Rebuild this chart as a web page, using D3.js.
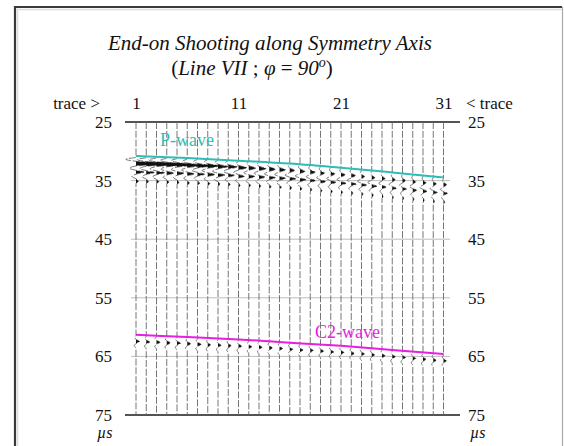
<!DOCTYPE html>
<html>
<head>
<meta charset="utf-8">
<script src="https://cdn.jsdelivr.net/npm/d3@7"></script>
<style>
  body { margin: 0; background: #fff; }
  svg { display: block; }
  .tick text { font-family: "Liberation Serif", "Times New Roman", serif; font-size: 17px; fill: #111; }
</style>
</head>
<body>
<div id="chart"></div>
<script>
// trace numbers and time ticks
const traces = [1, 2, 3, 4, 5, 6, 7, 8, 9, 10, 11, 12, 13, 14, 15, 16, 17, 18, 19, 20,
  21, 22, 23, 24, 25, 26, 27, 28, 29, 30, 31];
const traceTicks = [1, 11, 21, 31];
const timeTicks = [25, 35, 45, 55, 65, 75];
const gridTimes = [35, 45, 55, 65];

// picked arrival lines (µs)
const pickTraces = [1, 6, 11, 16, 21, 26, 31];
const pWavePick = [30.8, 31.15, 31.6, 32.1, 32.8, 33.6, 34.45];
const c2WavePick = [61.3, 61.7, 62.1, 62.65, 63.2, 63.9, 64.6];

// wiggle onsets (µs) and amplitudes (px) per trace
const pOnset = [31.0, 31.05, 31.1, 31.15, 31.2, 31.3, 31.35, 31.4, 31.5, 31.55, 31.7,
  31.75, 31.85, 31.95, 32.05, 32.15, 32.3, 32.45, 32.6, 32.75, 32.9,
  33.05, 33.2, 33.4, 33.55, 33.75, 33.9, 34.1, 34.25, 34.45, 34.6];
const pAmpMain = [34, 30, 26, 22, 18, 15, 13, 11, 10, 9, 8, 7, 7, 6, 6, 5, 5, 5, 4, 4,
  4, 4, 3, 3, 3, 3, 3, 3, 3, 3, 3];
const pAmpCoda = [8, 8, 8, 7, 7, 7, 7, 7, 7, 6, 6, 6, 6, 6, 6, 6, 6, 5, 5, 5,
  5, 5, 5, 5, 4, 4, 4, 4, 4, 4, 4];
const c2Onset = [61.5, 61.6, 61.65, 61.75, 61.8, 61.9, 62.0, 62.1, 62.15, 62.25, 62.3,
  62.4, 62.5, 62.6, 62.7, 62.85, 62.95, 63.05, 63.15, 63.3, 63.4,
  63.55, 63.65, 63.8, 63.95, 64.1, 64.25, 64.4, 64.55, 64.7, 64.8];
const c2Amp = [3.5, 3.5, 3.5, 3.5, 3.5, 3.5, 3.5, 3, 3, 3, 3, 3, 3, 3, 3, 3, 3, 3, 3, 3,
  3, 3, 3, 3, 3, 3, 3, 3, 3, 3, 3];

// wavelet shapes: [time after onset (µs), relative amplitude]
const mainLobe = [[0, 0], [0.35, -0.3], [0.7, 0], [1.1, 1], [1.5, 0]];
const codaLobes = [[1.9, -0.8], [2.25, 0], [2.55, 1], [2.9, 0], [3.3, -0.5], [3.7, 0], [4.1, 0.3], [4.5, 0]];
const c2Lobes = [[0, 0], [0.3, -0.4], [0.6, 0], [0.95, 1], [1.3, 0], [1.7, -0.5], [2.1, 0]];

const width = 564, height = 446;
const svg = d3.select('#chart').append('svg')
  .attr('width', width)
  .attr('height', height);

const x = d3.scaleLinear().domain([1, 31]).range([136, 443.5]);
const y = d3.scaleLinear().domain([25, 75]).range([122, 415]);

// frame
svg.append('path')
  .attr('d', 'M15,470 L15,7 L562,7')
  .attr('fill', 'none')
  .attr('stroke', '#3a3a3a')
  .attr('stroke-width', 2.2);
svg.append('path')
  .attr('d', 'M17.5,470 L17.5,9.5 L562,9.5')
  .attr('fill', 'none')
  .attr('stroke', '#ddd')
  .attr('stroke-width', 1.5);
svg.append('line')
  .attr('x1', 562.5).attr('x2', 562.5).attr('y1', 7).attr('y2', 446)
  .attr('stroke', '#aaa').attr('stroke-width', 1.2);

// title
const serif = '"Liberation Serif", "Times New Roman", serif';
svg.append('text')
  .attr('x', 270).attr('y', 50)
  .attr('text-anchor', 'middle')
  .style('font-family', serif).style('font-size', '21px').style('font-style', 'italic')
  .attr('fill', '#111')
  .text('End-on Shooting along Symmetry Axis');

const sub = svg.append('text')
  .attr('x', 252).attr('y', 75)
  .attr('text-anchor', 'middle')
  .style('font-family', serif).style('font-size', '21px')
  .attr('fill', '#111');
sub.append('tspan').text('(');
sub.append('tspan').style('font-style', 'italic').text('Line VII');
sub.append('tspan').text(' ; ');
sub.append('tspan').style('font-style', 'italic').text('φ');
sub.append('tspan').text(' = ');
sub.append('tspan').style('font-style', 'italic').text('90');
sub.append('tspan').style('font-style', 'italic').style('font-size', '14px').attr('dy', -8).text('o');
sub.append('tspan').attr('dy', 8).text(')');

// grid lines
svg.append('g').selectAll('line')
  .data(gridTimes)
  .join('line')
    .attr('x1', 131).attr('x2', 450)
    .attr('y1', d => y(d)).attr('y2', d => y(d))
    .attr('stroke', '#b5b5b5')
    .attr('stroke-width', 0.9);

// top and bottom axis lines
svg.append('g').selectAll('line')
  .data([25, 75])
  .join('line')
    .attr('x1', 125).attr('x2', 460)
    .attr('y1', d => y(d)).attr('y2', d => y(d))
    .attr('stroke', '#1a1a1a')
    .attr('stroke-width', 1.6);

// wiggle traces
function traceSamples(i) {
  const pts = [{t: 25, a: 0}];
  mainLobe.forEach(s => pts.push({t: pOnset[i] + s[0], a: s[1] * pAmpMain[i]}));
  codaLobes.forEach(s => pts.push({t: pOnset[i] + s[0], a: s[1] * pAmpCoda[i]}));
  c2Lobes.forEach(s => pts.push({t: c2Onset[i] + s[0], a: s[1] * c2Amp[i]}));
  pts.push({t: 75, a: 0});
  return pts;
}

const traceG = svg.append('g');
traces.forEach((tr, i) => {
  const pts = traceSamples(i);
  const x0 = x(tr);
  const area = d3.area()
    .curve(d3.curveMonotoneY)
    .y(d => y(d.t))
    .x0(x0)
    .x1(d => x0 + Math.max(0, d.a));
  const line = d3.line()
    .curve(d3.curveMonotoneY)
    .x(d => x0 + d.a)
    .y(d => y(d.t));

  traceG.append('path')
    .attr('d', line(pts))
    .attr('fill', 'none')
    .attr('stroke', '#666')
    .attr('stroke-width', 0.9)
    .attr('stroke-dasharray', '7,1.8');
  traceG.append('path')
    .attr('d', area(pts))
    .attr('fill', '#111');
});

// picked arrivals
const pickLine = d3.line()
  .curve(d3.curveMonotoneX)
  .x(d => x(d[0]))
  .y(d => y(d[1]));

svg.append('path')
  .attr('d', pickLine(pickTraces.map((t, i) => [t, pWavePick[i]])))
  .attr('fill', 'none')
  .attr('stroke', '#2fbcb6')
  .attr('stroke-width', 2);

svg.append('path')
  .attr('d', pickLine(pickTraces.map((t, i) => [t, c2WavePick[i]])))
  .attr('fill', 'none')
  .attr('stroke', '#e81ee0')
  .attr('stroke-width', 2);

svg.append('text')
  .attr('x', 160).attr('y', 146)
  .style('font-family', serif).style('font-size', '18px')
  .attr('fill', '#2fbcb6')
  .text('P-wave');

svg.append('text')
  .attr('x', 315).attr('y', 338)
  .style('font-family', serif).style('font-size', '18px')
  .attr('fill', '#e81ee0')
  .text('C2-wave');

// axes
svg.append('g')
  .attr('transform', 'translate(116,0)')
  .call(d3.axisLeft(y).tickValues(timeTicks).tickSize(0).tickPadding(4))
  .call(g => g.select('.domain').remove());

svg.append('g')
  .attr('transform', 'translate(464,0)')
  .call(d3.axisRight(y).tickValues(timeTicks).tickSize(0).tickPadding(4))
  .call(g => g.select('.domain').remove());

svg.append('g')
  .attr('transform', 'translate(0,113)')
  .call(d3.axisTop(x).tickValues(traceTicks).tickSize(0).tickPadding(4))
  .call(g => g.select('.domain').remove());

svg.append('text')
  .attr('x', 100).attr('y', 109)
  .attr('text-anchor', 'end')
  .style('font-family', serif).style('font-size', '17px')
  .attr('fill', '#111')
  .text('trace >');

svg.append('text')
  .attr('x', 466).attr('y', 109)
  .style('font-family', serif).style('font-size', '17px')
  .attr('fill', '#111')
  .text('< trace');

// units
[97, 470].forEach(ux => {
  svg.append('text')
    .attr('x', ux).attr('y', 438)
    .style('font-family', serif).style('font-size', '16px').style('font-style', 'italic')
    .attr('fill', '#111')
    .text('µs');
});
</script>
</body>
</html>
